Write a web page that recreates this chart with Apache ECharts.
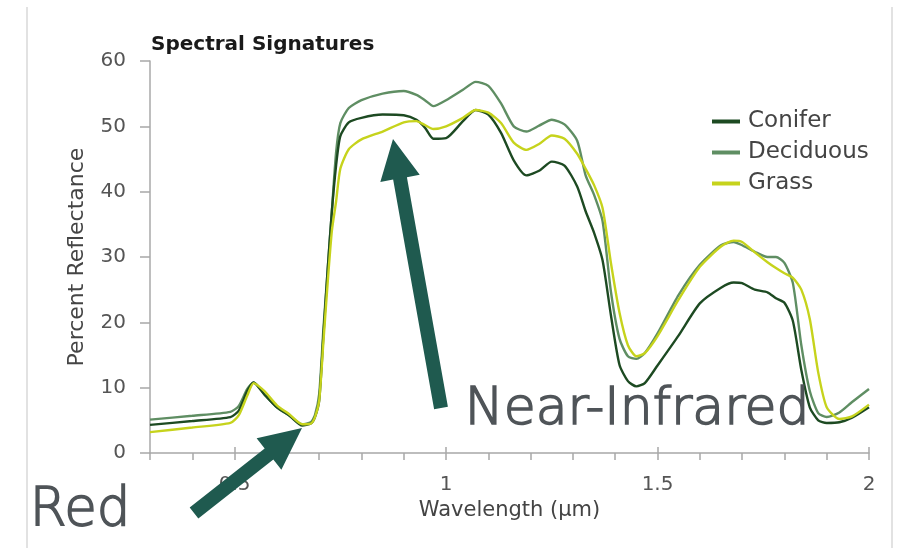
<!DOCTYPE html>
<html>
<head>
<meta charset="utf-8">
<script src="https://cdn.jsdelivr.net/npm/echarts@6/dist/echarts.min.js"></script>
<style>
html,body{margin:0;padding:0;background:#fff;}
#chart{width:897px;height:548px;}
</style>
</head>
<body>
<div id="chart"></div>
<script>
const seriesNames = ['Conifer', 'Deciduous', 'Grass'];
const wavelengths = [0.30, 0.40, 0.49, 0.51, 0.53, 0.545, 0.57, 0.60, 0.63, 0.66,
  0.68, 0.69, 0.70, 0.71, 0.72, 0.73, 0.74, 0.75, 0.77, 0.80,
  0.85, 0.90, 0.93, 0.95, 0.97, 1.00, 1.04, 1.07, 1.10, 1.13,
  1.16, 1.19, 1.22, 1.25, 1.28, 1.31, 1.33, 1.35, 1.37, 1.39,
  1.41, 1.43, 1.45, 1.47, 1.50, 1.55, 1.60, 1.65, 1.68, 1.70,
  1.73, 1.76, 1.78, 1.80, 1.82, 1.84, 1.86, 1.88, 1.90, 1.93,
  1.96, 2.00];
const conifer = [4.3, 4.9, 5.5, 6.5, 9.5, 10.8, 9.0, 7.0, 5.7, 4.2,
  4.5, 5.5, 8, 18, 28, 37, 44, 48.5, 50.6, 51.3,
  51.8, 51.7, 51.0, 49.8, 48.1, 48.2, 50.8, 52.5, 51.8, 49.0,
  44.8, 42.5, 43.2, 44.6, 44.0, 40.8, 37.0, 33.7, 29.5, 21.0,
  13.5, 11.0, 10.2, 10.7, 13.4, 18.0, 22.9, 25.3, 26.1, 26.0,
  25.0, 24.6, 23.7, 23.0, 20.2, 12.7, 7.0, 5.0, 4.6, 4.7,
  5.4, 7.0];
const deciduous = [5.1, 5.7, 6.3, 7.2, 9.8, 10.8, 9.0, 7.0, 5.7, 4.4,
  4.7, 5.8, 9, 19, 28, 37, 46, 50.5, 52.8, 54.0,
  55.0, 55.4, 54.8, 54.0, 53.1, 54.0, 55.6, 56.8, 56.2, 53.5,
  50.0, 49.2, 50.1, 51.0, 50.3, 47.8, 42.5, 39.5, 35.5, 24.6,
  17.5, 14.8, 14.4, 15.3, 18.3, 24.2, 28.8, 31.8, 32.3, 31.8,
  30.8, 30.0, 30.0, 29.1, 26.0, 16.5, 9.5, 6.1, 5.5, 6.2,
  7.8, 9.8];
const grass = [3.2, 3.9, 4.6, 5.8, 8.8, 10.7, 9.5, 7.3, 5.9, 4.4,
  4.5, 5.5, 8, 17, 26, 34, 38.5, 43.5, 46.5, 48.0,
  49.2, 50.6, 50.8, 50.2, 49.6, 50.0, 51.3, 52.5, 52.1, 50.5,
  47.5, 46.4, 47.3, 48.6, 48.1, 45.8, 43.5, 41.0, 37.5, 29.0,
  21.5, 16.5, 14.8, 15.3, 17.9, 23.5, 28.5, 31.6, 32.5, 32.3,
  30.7, 29.2, 28.3, 27.5, 26.8, 25.0, 20.5, 12.3, 7.0, 5.2,
  5.6, 7.4];
const xMajorTicks = [0.5, 1, 1.5, 2];
const colors = ['#1d4a22', '#5f8e63', '#c6d31c'];

const FONT = 'DejaVu Sans';
const chart = echarts.init(document.getElementById('chart'));

function arrow(tail, tip, sw, hw, hl, color) {
  const dx = tip[0] - tail[0], dy = tip[1] - tail[1];
  const len = Math.sqrt(dx * dx + dy * dy);
  const ux = dx / len, uy = dy / len;
  const px = -uy, py = ux;
  const bx = tip[0] - ux * hl, by = tip[1] - uy * hl;
  const pts = [
    [tail[0] + px * sw / 2, tail[1] + py * sw / 2],
    [bx + px * sw / 2, by + py * sw / 2],
    [bx + px * hw / 2, by + py * hw / 2],
    tip,
    [bx - px * hw / 2, by - py * hw / 2],
    [bx - px * sw / 2, by - py * sw / 2],
    [tail[0] - px * sw / 2, tail[1] - py * sw / 2]
  ];
  return { type: 'polygon', z: 100, shape: { points: pts }, style: { fill: color } };
}

function pairs(vals) { return wavelengths.map((w, i) => [w, vals[i]]); }

const option = {
  animation: false,
  backgroundColor: '#ffffff',
  title: {
    text: 'Spectral Signatures',
    left: 146, top: 30,
    textStyle: { fontFamily: FONT, fontSize: 20, fontWeight: 'bold', color: '#1a1a1a' }
  },
  legend: {
    data: seriesNames,
    orient: 'vertical',
    left: 707, top: 101,
    icon: 'rect', itemWidth: 28, itemHeight: 4, itemGap: 0,
    textStyle: { fontFamily: FONT, fontSize: 23, color: '#444', lineHeight: 31, padding: [0, 0, 0, 3] }
  },
  grid: { left: 150, right: 28, top: 61, bottom: 95, containLabel: false },
  xAxis: [{
    type: 'value', min: 0.3, max: 2, interval: 0.1,
    name: 'Wavelength (μm)', nameLocation: 'middle', nameGap: 47,
    nameTextStyle: { fontFamily: FONT, fontSize: 21, color: '#444' },
    axisLine: { show: true, lineStyle: { color: '#a8a8a8', width: 1.5 } },
    axisTick: { show: true, length: 7, lineStyle: { color: '#a8a8a8', width: 1.5 } },
    axisLabel: { customValues: xMajorTicks, margin: 22, fontFamily: FONT, fontSize: 20, color: '#555' },
    splitLine: { show: false }
  }, {
    type: 'value', min: 0.3, max: 2, position: 'bottom',
    axisLine: { show: false },
    axisTick: { show: true, inside: true, length: 6, customValues: xMajorTicks, lineStyle: { color: '#a8a8a8', width: 1.5 } },
    axisLabel: { show: false },
    splitLine: { show: false }
  }],
  yAxis: {
    type: 'value', min: 0, max: 60, interval: 10,
    name: 'Percent Reflectance', nameLocation: 'middle', nameGap: 62,
    nameTextStyle: { fontFamily: FONT, fontSize: 22, color: '#444' },
    axisLine: { show: true, lineStyle: { color: '#a8a8a8', width: 1.5 } },
    axisTick: { show: true, length: 10, lineStyle: { color: '#a8a8a8', width: 1.5 } },
    axisLabel: { margin: 24, fontFamily: FONT, fontSize: 20, color: '#555' },
    splitLine: { show: false }
  },
  series: [
    { name: 'Conifer', type: 'line', data: pairs(conifer), showSymbol: false, smooth: 0.22, lineStyle: { width: 2.4, color: colors[0] }, itemStyle: { color: colors[0] }, z: 3 },
    { name: 'Deciduous', type: 'line', data: pairs(deciduous), showSymbol: false, smooth: 0.22, lineStyle: { width: 2.4, color: colors[1] }, itemStyle: { color: colors[1] }, z: 2 },
    { name: 'Grass', type: 'line', data: pairs(grass), showSymbol: false, smooth: 0.22, lineStyle: { width: 2.4, color: colors[2] }, itemStyle: { color: colors[2] }, z: 4 }
  ],
  graphic: [
    { type: 'line', shape: { x1: 27, y1: 7, x2: 27, y2: 548 }, style: { stroke: '#e2e2e2', lineWidth: 2 } },
    { type: 'line', shape: { x1: 892, y1: 7, x2: 892, y2: 548 }, style: { stroke: '#e2e2e2', lineWidth: 2 } },
    arrow([194, 513], [302, 428], 14, 40, 42, '#1f5a4f'),
    arrow([441, 408], [393, 139], 14, 40, 40, '#1f5a4f'),
    { type: 'text', z: 100, left: 29, top: 484, style: { text: 'Red', font: '200 53px "DejaVu Sans"', fill: '#4f5458', stroke: '#4f5458', lineWidth: 1.6 } },
    { type: 'text', z: 100, left: 464, top: 384, style: { text: 'Near-Infrared', font: '200 52px "DejaVu Sans"', fill: '#4f5458', stroke: '#4f5458', lineWidth: 1.6 } }
  ]
};
chart.setOption(option);
</script>
</body>
</html>
